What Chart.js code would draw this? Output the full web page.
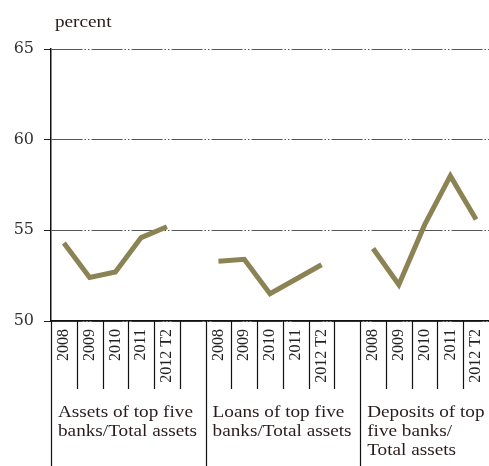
<!DOCTYPE html>
<html>
<head>
<meta charset="utf-8">
<script src="https://cdn.jsdelivr.net/npm/chart.js@4"></script>
<style>
  body { margin: 0; background: #fff; }
  #wrap { position: relative; width: 489px; height: 466px; }
</style>
</head>
<body>
<div id="wrap"><canvas id="shareChart"></canvas></div>
<script>
// ---------- DATA ----------
const years = ["2008", "2009", "2010", "2011", "2012 T2"];
const assetsShare = [54.3, 52.4, 52.7, 54.6, 55.2];
const loansShare = [53.3, 53.4, 51.5, 52.3, 53.1];
const depositsShare = [54.0, 52.0, 55.3, 58.0, 55.6];
const groupNames = [
    ["Assets of top five", "banks/Total assets"],
    ["Loans of top five", "banks/Total assets"],
    ["Deposits of top", "five banks/", "Total assets"]
];
const yTicks = [50, 55, 60, 65];

// one blank slot between the groups
const labels = [...years, "", ...years, "", ...years];
const values = [...assetsShare, null, ...loansShare, null, ...depositsShare];
const groupStart = [0, 6, 12];

const SERIF = "'Liberation Serif', 'DejaVu Serif', serif";

// text in the original is a bit wider than plain Times
function wideText(ctx, text, x, y, sx) {
    ctx.save();
    ctx.translate(x, y);
    ctx.scale(sx, 1);
    ctx.fillText(text, 0, 0);
    ctx.restore();
}

// ---------- DIVIDERS + GROUP LABELS ----------
const groupPlugin = {
    id: "groupPlugin",
    afterDraw(chart) {
        const ctx = chart.ctx;
        const x = chart.scales.x;
        const half = (x.right - x.left) / labels.length / 2;
        const bottom = chart.height;

        ctx.save();
        ctx.strokeStyle = "#111";
        ctx.lineWidth = 1.2;
        for (let i = 0; i < labels.length; i++) {
            const px = Math.round(x.getPixelForValue(i) - half) + 0.5;
            const long = groupStart.includes(i);
            ctx.beginPath();
            ctx.moveTo(px, x.top);
            ctx.lineTo(px, long ? bottom : x.top + 68);
            ctx.stroke();
        }

        ctx.fillStyle = "#2a1c1c";
        ctx.font = "17px " + SERIF;
        ctx.textBaseline = "alphabetic";
        groupNames.forEach((lines, g) => {
            const left = x.getPixelForValue(groupStart[g]) - half + 7;
            lines.forEach((t, k) => wideText(ctx, t, left, 417 + k * 19, 1.13));
        });

        ctx.font = "16px " + SERIF;
        wideText(ctx, "percent", 55, 27, 1.2);
        ctx.restore();
    }
};

// ---------- CHART ----------
new Chart(document.getElementById("shareChart"), {
    type: "line",
    data: {
        labels: labels,
        datasets: [{
            data: values,
            borderColor: "#8c8354",
            borderWidth: 5,
            pointRadius: 0,
            tension: 0,
            spanGaps: false
        }]
    },
    options: {
        responsive: true,
        maintainAspectRatio: false,
        animation: false,
        layout: { padding: { top: 49, right: 0, left: 0, bottom: 0 } },
        plugins: {
            legend: { display: false },
            tooltip: { enabled: false }
        },
        scales: {
            x: {
                offset: true,
                grid: { display: false, drawTicks: false },
                border: { display: true, color: "#111", width: 1.5 },
                ticks: {
                    autoSkip: false,
                    minRotation: 90,
                    maxRotation: 90,
                    padding: 8,
                    color: "#222",
                    font: { family: SERIF, size: 16 }
                },
                afterFit(scale) {
                    scale.height = 145;
                    scale.paddingLeft = 0;
                    scale.paddingRight = 0;
                }
            },
            y: {
                min: 50,
                max: 65,
                afterBuildTicks(scale) { scale.ticks = yTicks.map(v => ({ value: v })); },
                grid: {
                    color: "#555",
                    lineWidth: 1,
                    tickLength: 7,
                    tickColor: "#222",
                    tickBorderDash: []
                },
                border: { display: true, color: "#111", width: 1.5, dash: [31, 2, 1.5, 2, 1.5, 2] },
                ticks: {
                    padding: 10,
                    color: "#333",
                    font: { family: "'DejaVu Serif', serif", size: 16 }
                },
                afterFit(scale) { scale.width = 51; }
            }
        }
    },
    plugins: [groupPlugin]
});
</script>
</body>
</html>
